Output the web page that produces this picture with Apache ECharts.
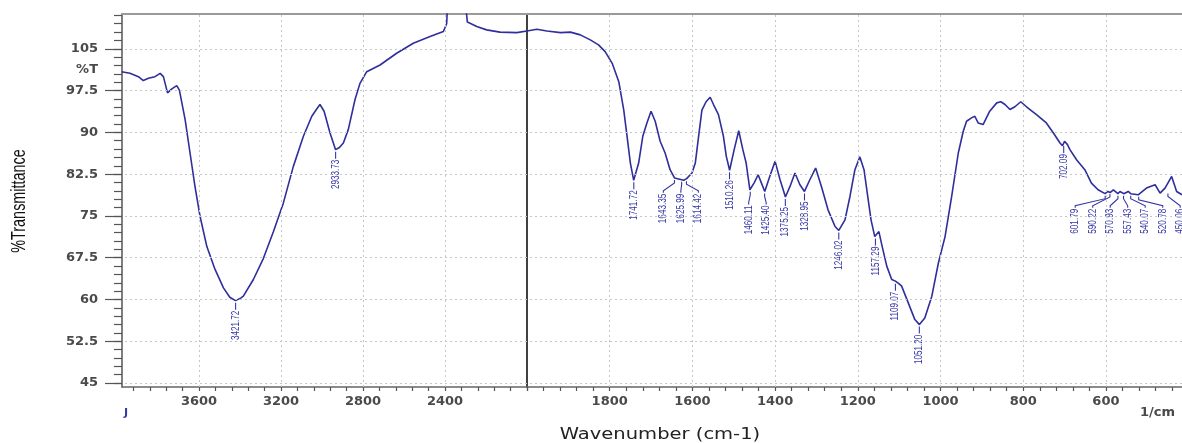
<!DOCTYPE html>
<html>
<head>
<meta charset="utf-8">
<script src="https://cdn.jsdelivr.net/npm/echarts@6/dist/echarts.min.js"></script>
<style>
html,body{margin:0;padding:0;background:#fff;}
#chart{width:1182px;height:443px;}
</style>
</head>
<body>
<div id="chart"></div>
<script>
// ---- spectrum (wavenumber cm-1, %T) ----
const wavenumbers = [
  3978,3937,3896,3872,3847,3815,3790,3774,3754,3733,3709,3696,3668,3644,3620,3595,3562,3522,3481,3450,
  3422,3395,3384,3335,3286,3237,3189,3140,3091,3050,3026,3010,2990,2961,2934,2915,2896,2872,2839,2815,
  2782,2717,2636,2555,2473,2408,2400,2392,2386,2300,2297,2291,2278,2245,2197,2132,2050,2000,
  1976,1952,1919,1895,1871,1847,1827,1811,1794,1778,1766,1758,1750,1742,1730,1720,1710,1700,1690,1678,
  1666,1654,1643,1631,1626,1621,1614,1601,1593,1585,1577,1567,1557,1549,1537,1525,1518,1510,1499,1488,
  1478,1470,1461,1451,1441,1433,1425,1413,1400,1388,1375,1364,1352,1340,1329,1316,1302,1288,1272,1255,
  1246,1231,1219,1207,1195,1185,1176,1168,1159,1149,1141,1130,1118,1109,1100,1094,1078,1062,1051,1038,
  1021,1005,989,973,957,945,937,925,917,909,897,881,864,854,844,832,820,806,792,768,
  744,727,711,705,700,693,687,671,651,635,619,602,595,590,582,571,566,557,546,540,
  522,502,481,469,457,441,429,416
];
const transmittance = [
  100.9,100.6,100.0,99.3,99.7,100.0,100.6,100.0,97.1,97.8,98.4,97.6,92.3,86.3,80.3,74.9,69.5,65.4,62.1,60.4,
  59.8,60.3,60.6,63.6,67.4,72.2,77.3,83.9,89.3,92.9,94.2,95.0,93.8,89.9,86.9,87.3,88.1,90.5,95.9,98.8,
  100.9,102.1,104.2,106.0,107.2,108.1,108.4,109.5,114.0,114.0,112.0,109.8,109.6,109.0,108.4,108.0,107.9,108.2,
  108.5,108.2,107.9,108.0,107.5,106.6,105.7,104.5,102.4,99.1,94.0,89.3,84.5,81.4,84.5,89.3,91.7,93.8,92.0,88.4,
  86.3,83.3,81.8,81.6,81.5,81.4,81.7,82.7,84.5,89.3,94.0,95.5,96.3,95.0,93.2,89.3,85.7,83.2,86.9,90.3,
  86.9,84.5,79.7,80.9,82.4,80.9,79.4,82.1,84.8,81.5,78.4,80.3,82.7,80.6,79.4,81.5,83.6,80.3,76.1,73.1,
  72.4,74.3,78.5,83.3,85.6,83.3,78.5,74.3,71.3,72.2,69.5,66.0,63.6,63.3,62.8,62.4,59.4,56.4,55.5,56.7,
  60.6,66.6,71.3,78.5,86.3,90.2,92.0,92.6,92.9,91.7,91.4,93.8,95.3,95.5,95.0,94.1,94.6,95.5,94.6,93.2,
  91.7,89.9,88.1,87.6,88.4,87.8,86.9,85.1,83.3,80.9,79.7,79.0,79.4,79.2,79.7,79.0,79.4,79.0,79.4,79.0,
  78.8,80.0,80.6,79.1,80.0,82.1,79.4,78.8
];

// ---- labelled peaks ----
const peakWavenumbers = [3421.72,2933.73,1741.72,1643.35,1625.99,1614.42,1510.26,1460.11,1425.40,1375.25,1328.95,1246.02,1157.29,1109.07,1051.20,702.09,601.79,590.22,570.93,557.43,540.07,520.78,450.06];
const peakTransmittance = [59.8,86.9,81.4,81.8,81.5,81.6,83.2,79.7,79.4,78.4,79.4,72.4,71.3,63.2,55.5,87.9,79.0,79.3,79.0,79.0,79.0,78.8,79.4];
const peakLabels = ['3421.72','2933.73','1741.72','1643.35','1625.99','1614.42','1510.26','1460.11','1425.40','1375.25','1328.95','1246.02','1157.29','1109.07','1051.20','702.09','601.79','590.22','570.93','557.43','540.07','520.78','450.06'];

// ---- axis ticks ----
const xLabelsHigh = [2400,2800,3200,3600];
const xLabelsLow = [600,800,1000,1200,1400,1600,1800];
const yLabels = [45,52.5,60,67.5,75,82.5,90,97.5,105];
const yUnitLabelAt = 101.25;
const yUnitLabel = '%T';
const xBreak = 2000;

// derived tick lists
const xMinorHigh = []; for (let v = 2000; v <= 3960; v += 80) xMinorHigh.push(v);
const xMinorLow = []; for (let v = 440; v <= 2000; v += 40) xMinorLow.push(v);
const yMinor = []; for (let v = 45; v <= 111; v += 1.5) yMinor.push(+v.toFixed(2));

const leftData = [], rightData = [];
wavenumbers.forEach((w, i) => {
  if (w >= xBreak) leftData.push([w, transmittance[i]]);
  if (w <= xBreak) rightData.push([w, transmittance[i]]);
});
const leftPeaks = [], rightPeaks = [];
peakWavenumbers.forEach((w, i) => {
  (w >= xBreak ? leftPeaks : rightPeaks).push([w, peakTransmittance[i], i]);
});

const Y_MIN = 44.3, Y_MAX = 111.25;
const LINE_COLOR = '#2e2e9c';
const PEAK_COLOR = '#3434a6';
const TICK_FONT = 'DejaVu Sans';

function layoutPeaks(api, peaks) {
  const gap = 17.5;
  const pts = peaks.map(p => { const c = api.coord([p[0], p[1]]); return { px: c[0], py: c[1] }; });
  let groups = pts.map((p, i) => ({ members: [i] }));
  const center = g => g.members.reduce((s, k) => s + pts[k].px, 0) / g.members.length;
  const ext = g => { const c = center(g), n = g.members.length; return [c - (n - 1) / 2 * gap, c + (n - 1) / 2 * gap]; };
  const maxPy = g => Math.max.apply(null, g.members.map(k => pts[k].py));
  let changed = true;
  while (changed) {
    changed = false;
    for (let i = 0; i < groups.length - 1; i++) {
      const a = groups[i], b = groups[i + 1];
      if (ext(a)[1] + gap > ext(b)[0] && Math.abs(maxPy(a) - maxPy(b)) < 25) {
        groups.splice(i, 2, { members: a.members.concat(b.members) });
        changed = true; break;
      }
    }
  }
  const out = [];
  groups.forEach(g => {
    const c = center(g), n = g.members.length, my = maxPy(g);
    g.members.forEach((k, j) => {
      const lx = c + (j - (n - 1) / 2) * gap;
      out[k] = { px: pts[k].px, py: pts[k].py, lx: lx, top: n > 1 ? my + 14 : pts[k].py + 10, multi: n > 1 };
    });
  });
  return out;
}

function makeRenderer(peaks) {
  return function (params, api) {
    const L = layoutPeaks(api, peaks)[params.dataIndex];
    const label = peakLabels[peaks[params.dataIndex][2]];
    const pts = L.multi
      ? [[L.px, L.py + 2], [L.px, L.py + 5], [L.lx, L.top - 3], [L.lx, L.top - 1]]
      : [[L.px, L.py + 2], [L.px, L.top - 1]];
    return {
      type: 'group',
      children: [
        { type: 'polyline', shape: { points: pts }, style: { stroke: PEAK_COLOR, lineWidth: 1.1, fill: null } },
        { type: 'text', x: L.lx, y: L.top, rotation: Math.PI / 2, scaleX: 0.74,
          style: { text: label, align: 'right', verticalAlign: 'middle', fill: PEAK_COLOR,
                   font: '11px "Liberation Sans", Arial, sans-serif' } }
      ]
    };
  };
}

const gridLineStyle = { type: [2, 3], color: '#c6c6c6', width: 1 };
function gridMarks(xVals) {
  return {
    silent: true, symbol: ['none', 'none'], animation: false,
    label: { show: false }, lineStyle: gridLineStyle, emphasis: { disabled: true },
    data: yLabels.map(v => ({ yAxis: v })).concat(xVals.map(v => ({ xAxis: v })))
  };
}

const labelStyle = { color: '#4a4a4a', fontFamily: TICK_FONT, fontSize: 13, fontWeight: 'bold' };
const plain = v => String(v);

const chart = echarts.init(document.getElementById('chart'), null, { renderer: 'canvas' });
chart.setOption({
  backgroundColor: '#ffffff',
  animation: false,
  grid: [
    { left: 122, top: 14, width: 405, height: 373 },
    { left: 527, top: 14, right: 0, height: 373 }
  ],
  xAxis: [
    { gridIndex: 0, type: 'value', inverse: true, min: 2000, max: 3976, position: 'bottom',
      axisLine: { show: true, onZero: false, lineStyle: { color: '#666', width: 1.5 } },
      axisTick: { show: true, customValues: xMinorHigh, length: 4, lineStyle: { color: '#555', width: 1.2 } },
      axisLabel: Object.assign({ customValues: xLabelsHigh, margin: 8, formatter: plain }, labelStyle),
      splitLine: { show: false } },
    { gridIndex: 1, type: 'value', inverse: true, min: 416, max: 2000, position: 'bottom',
      axisLine: { show: true, onZero: false, lineStyle: { color: '#666', width: 1.5 } },
      axisTick: { show: true, customValues: xMinorLow, length: 4, lineStyle: { color: '#555', width: 1.2 } },
      axisLabel: Object.assign({ customValues: xLabelsLow, margin: 8, formatter: plain }, labelStyle),
      splitLine: { show: false } },
    { gridIndex: 0, type: 'value', inverse: true, min: 2000, max: 3976, position: 'top',
      axisLine: { show: true, onZero: false, lineStyle: { color: '#9a9a9a', width: 2 } },
      axisTick: { show: false }, axisLabel: { show: false }, splitLine: { show: false } },
    { gridIndex: 1, type: 'value', inverse: true, min: 416, max: 2000, position: 'top',
      axisLine: { show: true, onZero: false, lineStyle: { color: '#9a9a9a', width: 2 } },
      axisTick: { show: false }, axisLabel: { show: false }, splitLine: { show: false } }
  ],
  yAxis: [
    { gridIndex: 0, type: 'value', min: Y_MIN, max: Y_MAX, position: 'left',
      axisLine: { show: true, onZero: false, lineStyle: { color: '#555', width: 1.5 } },
      axisTick: { show: true, customValues: yMinor, length: 8, lineStyle: { color: '#555', width: 1.2 } },
      axisLabel: Object.assign({ customValues: yLabels.concat([yUnitLabelAt]), margin: 24,
        formatter: v => (Math.abs(v - yUnitLabelAt) < 1e-6 ? yUnitLabel : String(v)) }, labelStyle),
      splitLine: { show: false } },
    { gridIndex: 0, type: 'value', min: Y_MIN, max: Y_MAX, position: 'left', offset: 0,
      axisLine: { show: false },
      axisTick: { show: true, customValues: yLabels, length: 17, lineStyle: { color: '#555', width: 1.2 } },
      axisLabel: { show: false }, splitLine: { show: false } },
    { gridIndex: 1, type: 'value', min: Y_MIN, max: Y_MAX, position: 'left',
      axisLine: { show: true, onZero: false, lineStyle: { color: '#111', width: 1.6 } },
      axisTick: { show: false }, axisLabel: { show: false }, splitLine: { show: false } }
  ],
  series: [
    { type: 'line', xAxisIndex: 0, yAxisIndex: 0, data: leftData, showSymbol: false, symbol: 'none',
      lineStyle: { color: LINE_COLOR, width: 1.6 }, clip: true, z: 3, markLine: gridMarks(xLabelsHigh) },
    { type: 'line', xAxisIndex: 1, yAxisIndex: 2, data: rightData, showSymbol: false, symbol: 'none',
      lineStyle: { color: LINE_COLOR, width: 1.6 }, clip: true, z: 3, markLine: gridMarks(xLabelsLow) },
    { type: 'custom', xAxisIndex: 0, yAxisIndex: 0, data: leftPeaks, renderItem: makeRenderer(leftPeaks),
      encode: { x: 0, y: 1 }, z: 4, silent: true },
    { type: 'custom', xAxisIndex: 1, yAxisIndex: 2, data: rightPeaks, renderItem: makeRenderer(rightPeaks),
      encode: { x: 0, y: 1 }, z: 4, silent: true }
  ],
  graphic: [
    { type: 'text', x: 19, y: 201, rotation: Math.PI / 2, scaleX: 0.72,
      style: { text: '%Transmittance', align: 'center', verticalAlign: 'middle', fill: '#111',
               font: '20px "Liberation Sans", Arial, sans-serif' } },
    { type: 'text', x: 660, y: 435, scaleX: 1.22,
      style: { text: 'Wavenumber (cm-1)', align: 'center', verticalAlign: 'middle', fill: '#222',
               font: '16px "DejaVu Sans", sans-serif' } },
    { type: 'text', x: 1140, y: 413,
      style: { text: '1/cm', align: 'left', verticalAlign: 'middle', fill: '#4a4a4a',
               font: 'bold 13px "DejaVu Sans", sans-serif' } },
    { type: 'text', x: 126, y: 413,
      style: { text: 'J', align: 'center', verticalAlign: 'middle', fill: '#3838a8',
               font: 'bold 11px "DejaVu Sans", sans-serif' } }
  ]
});
</script>
</body>
</html>
